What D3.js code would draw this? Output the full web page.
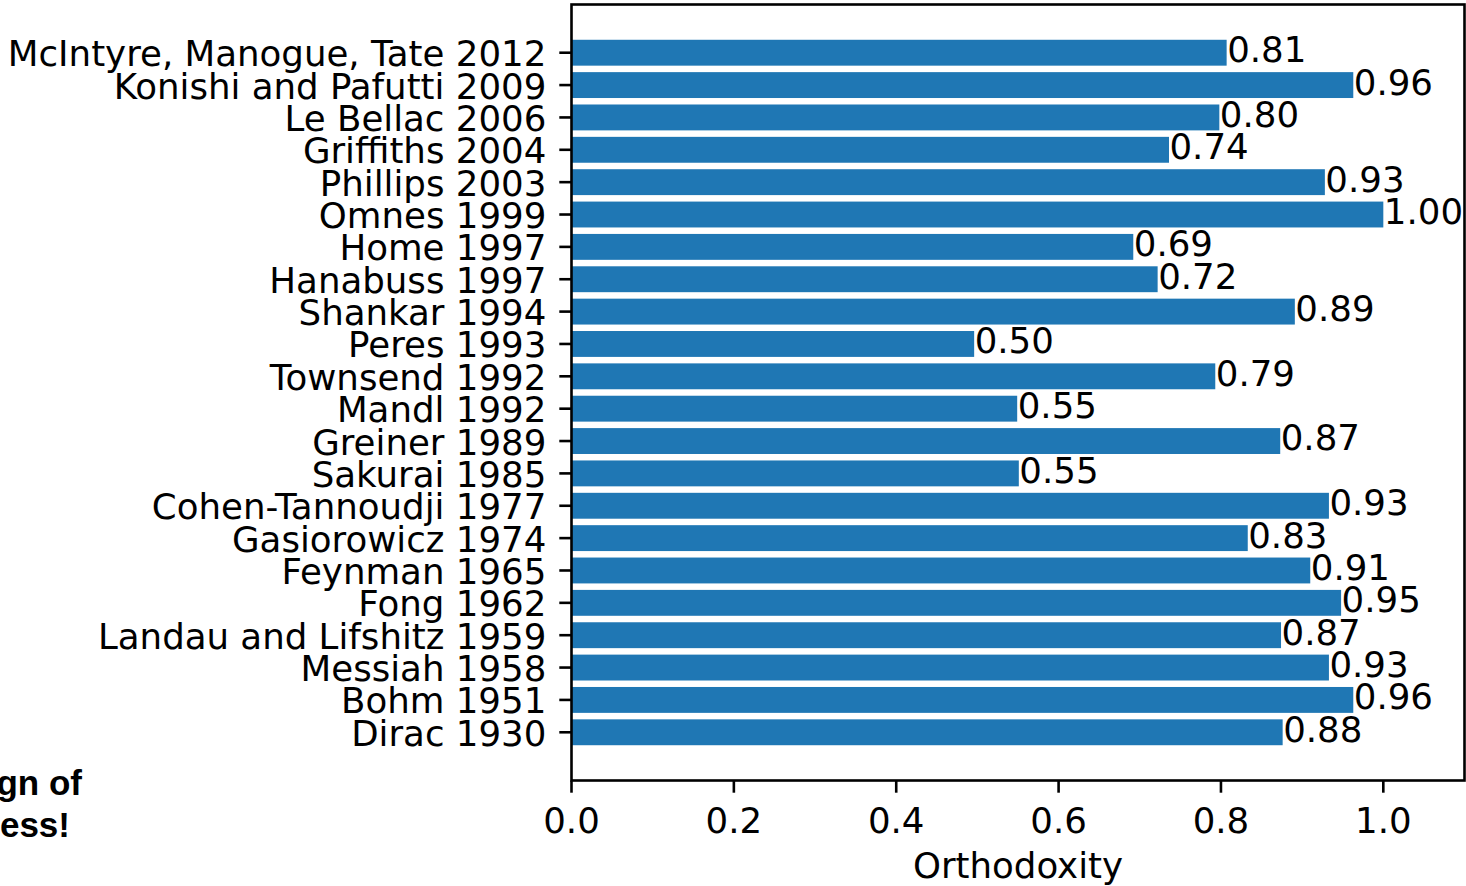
<!DOCTYPE html>
<html>
<head>
<meta charset="utf-8">
<script src="https://cdn.jsdelivr.net/npm/d3@7"></script>
<style>
  html, body { margin: 0; padding: 0; background: #fff; }
  svg { display: block; }
</style>
</head>
<body>
<svg id="chart" width="1466" height="886"></svg>
<script>
// Data (bottom to top, as plotted)
const categories = [
  "Dirac 1930", "Bohm 1951", "Messiah 1958", "Landau and Lifshitz 1959",
  "Fong 1962", "Feynman 1965", "Gasiorowicz 1974", "Cohen-Tannoudji 1977",
  "Sakurai 1985", "Greiner 1989", "Mandl 1992", "Townsend 1992",
  "Peres 1993", "Shankar 1994", "Hanabuss 1997", "Home 1997",
  "Omnes 1999", "Phillips 2003", "Griffiths 2004", "Le Bellac 2006",
  "Konishi and Pafutti 2009", "McIntyre, Manogue, Tate 2012"
];
const orthodoxity = [
  0.876, 0.963, 0.933, 0.874,
  0.948, 0.910, 0.833, 0.933,
  0.551, 0.873, 0.549, 0.793,
  0.496, 0.891, 0.722, 0.692,
  1.000, 0.928, 0.736, 0.798,
  0.963, 0.807
];
const xTicks = [0.0, 0.2, 0.4, 0.6, 0.8, 1.0];
const xLabel = "Orthodoxity";
const noteLines = ["Sign of", "progress!"];

const svg = d3.select("#chart");
const plot = { left: 571.5, right: 1464.5, top: 4.5, bottom: 780.5 };
const FS = 35.6;
const font = "'DejaVu Sans', sans-serif";
const barColor = "#1f77b4";
const n = categories.length;

const x = d3.scaleLinear().domain([0, 1.1]).range([plot.left, plot.right]);
// matplotlib-style: bars at integer positions, height 0.8, 5% margins
const lo = -0.4, hi = (n - 1) + 0.4, pad = (hi - lo) * 0.05;
const y = d3.scaleLinear().domain([lo - pad, hi + pad]).range([plot.bottom, plot.top]);
const bh = y(0) - y(0.8);

const data = categories.map((c, i) => ({ c, v: orthodoxity[i], i }));

// bars
svg.append("g").selectAll("rect").data(data).join("rect")
  .attr("x", x(0))
  .attr("y", d => y(d.i + 0.4))
  .attr("width", d => x(d.v) - x(0))
  .attr("height", bh)
  .attr("fill", barColor);

// bar labels
svg.append("g").selectAll("text").data(data).join("text")
  .attr("x", d => x(d.v) + 0.5)
  .attr("y", d => y(d.i) + 0.265 * FS)
  .attr("font-family", font).attr("font-size", FS).attr("fill", "#000")
  .text(d => d3.format(".2f")(d.v));

// frame
const sw = 2.6;
svg.append("rect")
  .attr("x", plot.left).attr("y", plot.top)
  .attr("width", plot.right - plot.left).attr("height", plot.bottom - plot.top)
  .attr("fill", "none").attr("stroke", "#000").attr("stroke-width", sw);

// y axis ticks & labels
const tickLen = 12.2;
const yAxis = svg.append("g");
yAxis.selectAll("line").data(data).join("line")
  .attr("x1", plot.left - tickLen).attr("x2", plot.left)
  .attr("y1", d => y(d.i)).attr("y2", d => y(d.i))
  .attr("stroke", "#000").attr("stroke-width", sw);
yAxis.selectAll("text").data(data).join("text")
  .attr("x", plot.left - tickLen - 13)
  .attr("y", d => y(d.i) + 0.38 * FS)
  .attr("text-anchor", "end")
  .attr("font-family", font).attr("font-size", FS).attr("fill", "#000")
  .text(d => d.c);

// x axis ticks & labels
const xAxis = svg.append("g");
xAxis.selectAll("line").data(xTicks).join("line")
  .attr("x1", d => x(d)).attr("x2", d => x(d))
  .attr("y1", plot.bottom).attr("y2", plot.bottom + tickLen)
  .attr("stroke", "#000").attr("stroke-width", sw);
xAxis.selectAll("text").data(xTicks).join("text")
  .attr("x", d => x(d))
  .attr("y", 833)
  .attr("text-anchor", "middle")
  .attr("font-family", font).attr("font-size", FS).attr("fill", "#000")
  .text(d => d3.format(".1f")(d));

svg.append("text")
  .attr("x", (plot.left + plot.right) / 2)
  .attr("y", 878)
  .attr("text-anchor", "middle")
  .attr("font-family", font).attr("font-size", FS).attr("fill", "#000")
  .text(xLabel);

// clipped annotation at bottom-left
const note = svg.append("g")
  .attr("font-family", "'Liberation Sans', Arial, sans-serif")
  .attr("font-weight", "bold").attr("font-size", 35).attr("fill", "#000");
note.append("text").attr("x", 82).attr("y", 795).attr("text-anchor", "end").text(noteLines[0]);
note.append("text").attr("x", 70).attr("y", 837).attr("text-anchor", "end").text(noteLines[1]);
</script>
</body>
</html>
